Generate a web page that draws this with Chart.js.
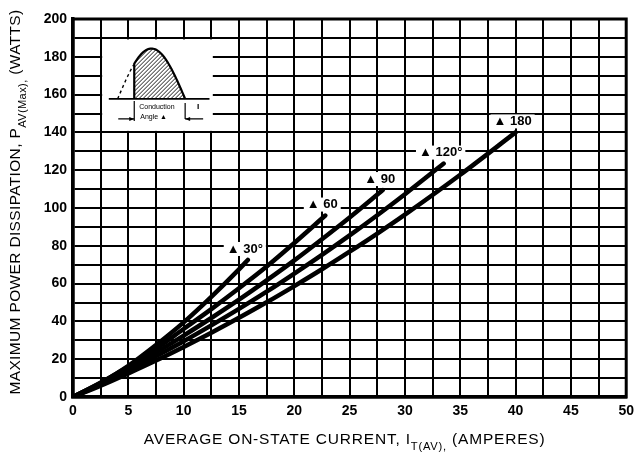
<!DOCTYPE html>
<html>
<head>
<meta charset="utf-8">
<script src="https://cdn.jsdelivr.net/npm/chart.js@4.4.0/dist/chart.umd.min.js"></script>
<style>
  html, body { margin: 0; padding: 0; background: #fff; }
  #wrap { width: 640px; height: 457px; }
</style>
</head>
<body>
<div id="wrap"><canvas id="myChart"></canvas></div>
<script>
// curve labels (conduction angle)
let angleLabels = ['\u25B2 30\u00B0', '\u25B2 60', '\u25B2 90', '\u25B2 120\u00B0', '\u25B2 180'];

// average on-state current (A) and max power dissipation (W)
let current30 = [0, 2.5, 5, 7.5, 10, 12.5, 15, 15.8];
let power30   = [0, 7.5, 16.5, 27.5, 39.5, 53, 67.5, 72.5];

let current60 = [0, 2.5, 5, 7.5, 10, 12.5, 15, 17.5, 20, 22.8];
let power60   = [0, 7.5, 16, 25.5, 36, 46.5, 57.5, 69, 81.5, 96];

let current90 = [0, 2.5, 5, 7.5, 10, 12.5, 15, 17.5, 20, 22.5, 25, 28];
let power90   = [0, 7, 15, 23.5, 32.5, 41.8, 51.5, 61.7, 72.3, 83.5, 95, 109.5];

let current120 = [0, 2.5, 5, 7.5, 10, 12.5, 15, 17.5, 20, 22.5, 25, 27.5, 30, 33.5];
let power120   = [0, 6.5, 13.5, 21.5, 29.5, 37.9, 46.6, 55.7, 65.3, 75.2, 85.5, 96.2, 107.3, 123.5];

let current180 = [0, 2.5, 5, 7.5, 10, 12.5, 15, 17.5, 20, 22.5, 25, 27.5, 30, 35, 40];
let power180   = [0, 6, 12.5, 19.3, 26.5, 34, 41.9, 50.1, 58.7, 67.6, 76.9, 86.5, 96.5, 117.6, 140];

let xTitle = [['AVERAGE ON-STATE CURRENT, I', false], ['T(AV)', true], [',', true], [' (AMPERES)', false]];
let yTitle = [['MAXIMUM POWER DISSIPATION, P', false], ['AV(Max)', true], [',', true], [' (WATTS)', false]];

function pairs(xs, ys) {
    return xs.map((x, i) => ({x: x, y: ys[i]}));
}

let curves = [
    pairs(current30, power30),
    pairs(current60, power60),
    pairs(current90, power90),
    pairs(current120, power120),
    pairs(current180, power180)
];

let fontFamily = "'Liberation Sans', Arial, sans-serif";

// draws a string made of normal and subscript pieces, centred on (cx, cy)
function drawSubText(c, parts, cx, cy, size, spacing) {
    let subSize = size * 0.72;
    c.letterSpacing = spacing + 'px';
    let w = 0;
    parts.forEach(p => {
        c.font = (p[1] ? subSize : size) + 'px ' + fontFamily;
        w += c.measureText(p[0]).width;
    });
    let x = cx - w / 2;
    c.textBaseline = 'alphabetic';
    c.textAlign = 'left';
    parts.forEach(p => {
        c.font = (p[1] ? subSize : size) + 'px ' + fontFamily;
        c.fillText(p[0], x, cy + (p[1] ? size * 0.38 : 0));
        x += c.measureText(p[0]).width;
    });
    c.letterSpacing = '0px';
}

let frame = {
    id: 'frame',
    afterDatasetsDraw(chart) {
        let c = chart.ctx, a = chart.chartArea;
        let xs = chart.scales.x, ys = chart.scales.y;
        c.save();
        c.strokeStyle = '#000';
        c.lineWidth = 3;
        c.strokeRect(a.left, a.top, a.right - a.left, a.bottom - a.top);

        // inset: conduction angle waveform
        let bx0 = xs.getPixelForValue(2.5) + 1.5, bx1 = xs.getPixelForValue(12.5) + 1.5;
        let by0 = ys.getPixelForValue(190) + 1.5, by1 = ys.getPixelForValue(140) - 1.5;
        let w = bx1 - bx0, h = by1 - by0;
        c.fillStyle = '#fff';
        c.fillRect(bx0, by0, w, h);

        let base = by0 + 0.65 * h;
        let s0 = bx0 + 0.14 * w, s1 = bx0 + 0.75 * w, on = bx0 + 0.29 * w;
        let amp = 0.55 * h;
        let wave = px => base - amp * Math.sin(Math.PI * (px - s0) / (s1 - s0));

        c.lineWidth = 1.8;
        c.beginPath();
        c.moveTo(bx0 + 0.06 * w, base);
        c.lineTo(bx0 + 0.97 * w, base);
        c.stroke();

        // dashed lead-in part
        c.setLineDash([3, 3]);
        c.lineWidth = 1.4;
        c.beginPath();
        for (let px = s0; px <= on; px += 1) {
            if (px === s0) c.moveTo(px, wave(px)); else c.lineTo(px, wave(px));
        }
        c.stroke();
        c.setLineDash([]);

        // conducting part, hatched
        c.beginPath();
        c.moveTo(on, base);
        for (let px = on; px <= s1; px += 1) c.lineTo(px, wave(px));
        c.lineTo(s1, base);
        c.closePath();
        c.save();
        c.clip();
        c.lineWidth = 0.9;
        for (let k = -h; k < w; k += 4) {
            c.beginPath();
            c.moveTo(on + k, base);
            c.lineTo(on + k + h, base - h);
            c.stroke();
        }
        c.restore();
        c.lineWidth = 2.2;
        c.beginPath();
        c.moveTo(on, base);
        for (let px = on; px <= s1; px += 1) c.lineTo(px, wave(px));
        c.lineTo(s1, base);
        c.stroke();

        // angle markers and arrows
        c.lineWidth = 1.2;
        c.beginPath();
        c.moveTo(on, base + 2); c.lineTo(on, base + 22);
        c.moveTo(s1, base + 4); c.lineTo(s1, base + 20);
        c.moveTo(on - 16, base + 20); c.lineTo(on, base + 20);
        c.moveTo(s1 + 18, base + 20); c.lineTo(s1, base + 20);
        c.moveTo(s1 + 13, base + 5); c.lineTo(s1 + 13, base + 10);
        c.stroke();
        c.beginPath();
        c.moveTo(on, base + 20); c.lineTo(on - 5, base + 18); c.lineTo(on - 5, base + 22); c.closePath();
        c.moveTo(s1, base + 20); c.lineTo(s1 + 5, base + 18); c.lineTo(s1 + 5, base + 22); c.closePath();
        c.fillStyle = '#000';
        c.fill();

        c.font = '7px ' + fontFamily;
        c.textAlign = 'left';
        c.textBaseline = 'middle';
        c.fillText('Conduction', on + 5, base + 8);
        c.fillText('Angle \u25B2', on + 6, base + 18);
        c.restore();
    }
};

let curveLabels = {
    id: 'curveLabels',
    afterDatasetsDraw(chart) {
        let c = chart.ctx;
        c.save();
        c.font = 'bold 13px ' + fontFamily;
        c.textAlign = 'center';
        c.textBaseline = 'middle';
        chart.data.datasets.forEach((ds, i) => {
            let pts = chart.getDatasetMeta(i).data;
            let p = pts[pts.length - 1];
            let tx = p.x - 3, ty = p.y - 11;
            let tw = c.measureText(angleLabels[i]).width;
            c.fillStyle = '#fff';
            c.fillRect(tx - tw / 2 - 3, ty - 7, tw + 6, 14);
            c.fillStyle = '#000';
            c.fillText(angleLabels[i], tx, ty);
        });
        c.restore();
    }
};

let axisTitles = {
    id: 'axisTitles',
    afterDraw(chart) {
        let c = chart.ctx, a = chart.chartArea;
        c.save();
        c.fillStyle = '#000';
        drawSubText(c, xTitle, (a.left + a.right) / 2 - 5, 444, 15.5, 0.8);
        c.translate(20, (a.top + a.bottom) / 2);
        c.rotate(-Math.PI / 2);
        drawSubText(c, yTitle, 6, 0, 15.5, 0.35);
        c.restore();
    }
};

let ctx = document.getElementById('myChart').getContext('2d');
let chart = new Chart(ctx, {
    type: 'line',
    data: {
        datasets: curves.map((pts, i) => ({
            label: angleLabels[i],
            data: pts,
            borderColor: '#000',
            backgroundColor: '#000',
            borderWidth: 4.5,
            borderCapStyle: 'round',
            pointRadius: 0,
            cubicInterpolationMode: 'monotone',
            fill: false
        }))
    },
    options: {
        responsive: true,
        maintainAspectRatio: false,
        animation: false,
        layout: { padding: { top: 19, right: 8, left: 0, bottom: 0 } },
        plugins: { legend: { display: false }, tooltip: { enabled: false } },
        scales: {
            x: {
                type: 'linear',
                min: 0,
                max: 50,
                afterFit: s => { s.height = 60; },
                grid: { color: '#000', lineWidth: 2, drawTicks: false },
                border: { color: '#000', width: 3.5 },
                ticks: {
                    stepSize: 2.5,
                    autoSkip: false,
                    maxRotation: 0,
                    padding: 6,
                    color: '#000',
                    font: { family: fontFamily, size: 14, weight: 'bold' },
                    callback: v => (v % 5 === 0 ? v : '')
                }
            },
            y: {
                min: 0,
                max: 200,
                afterFit: s => { s.width = 73; },
                grid: { color: '#000', lineWidth: 2, drawTicks: false },
                border: { color: '#000', width: 3.5 },
                ticks: {
                    stepSize: 10,
                    autoSkip: false,
                    padding: 6,
                    color: '#000',
                    font: { family: fontFamily, size: 14, weight: 'bold' },
                    callback: v => (v % 20 === 0 ? v : '')
                }
            }
        }
    },
    plugins: [frame, curveLabels, axisTitles]
});
</script>
</body>
</html>
